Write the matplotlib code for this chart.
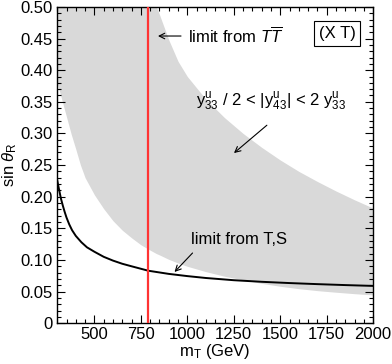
import matplotlib
matplotlib.use("Agg")
import matplotlib.pyplot as plt
from matplotlib.ticker import MultipleLocator, FuncFormatter

plt.rcParams['font.family'] = ['Liberation Sans', 'DejaVu Sans']
plt.rcParams['mathtext.fontset'] = 'custom'
plt.rcParams['mathtext.rm'] = 'Liberation Sans'
plt.rcParams['mathtext.it'] = 'Liberation Sans:italic'

# limit from T,S (black curve)
m_ts = [300, 310, 320, 330, 340, 350, 365, 380, 400, 430, 460, 500, 550, 600, 650,
        700, 790, 900, 1000, 1100, 1250, 1400, 1550, 1700, 1850, 2000]
sin_ts = [0.226, 0.211, 0.197, 0.186, 0.176, 0.167, 0.156, 0.147, 0.138, 0.128, 0.120,
          0.113, 0.105, 0.099, 0.094, 0.090, 0.083, 0.078, 0.0745, 0.0715, 0.068,
          0.0655, 0.0635, 0.0618, 0.0603, 0.059]

# grey band  y33/2 < |y43| < 2 y33
m_band = [300, 325, 350, 375, 400, 425, 450, 500, 550, 600, 650, 700, 750, 800, 834,
          850, 900, 950, 1000, 1100, 1200, 1300, 1400, 1500, 1600, 1700, 1800, 1900, 2000]
band_lo = [0.380, 0.353, 0.326, 0.299, 0.275, 0.250, 0.230, 0.203, 0.181, 0.162, 0.147,
           0.135, 0.124, 0.1155, 0.110, 0.108, 0.101, 0.0952, 0.090, 0.0815, 0.0743,
           0.0685, 0.0630, 0.0584, 0.0546, 0.0515, 0.0490, 0.0467, 0.0447]
band_hi = [0.5, 0.5, 0.5, 0.5, 0.5, 0.5, 0.5, 0.5, 0.5, 0.5, 0.5, 0.5, 0.5, 0.5, 0.5,
           0.488, 0.448, 0.414, 0.390, 0.354, 0.325, 0.300, 0.278, 0.258, 0.240,
           0.224, 0.209, 0.195, 0.182]

# limit from T Tbar
m_ttbar = 790

x_ticks = [500, 750, 1000, 1250, 1500, 1750, 2000]
y_ticks = [0, 0.05, 0.10, 0.15, 0.20, 0.25, 0.30, 0.35, 0.40, 0.45, 0.50]

FS = 12

fig = plt.figure(figsize=(3.92, 3.64), dpi=100)
ax = fig.add_axes([0.146, 0.112, 0.806, 0.869])

ax.fill_between(m_band, band_lo, band_hi, color='#d9d9d9', lw=0, zorder=1)
ax.plot(m_ts, sin_ts, color='black', lw=1.4, zorder=3)
ax.axvline(m_ttbar, color='#ff3333', lw=1.6, zorder=4)

ax.set_xlim(300, 2000)
ax.set_ylim(0, 0.5)
ax.set_xticks(x_ticks)
ax.set_yticks(y_ticks)
ax.xaxis.set_minor_locator(MultipleLocator(50))
ax.yaxis.set_minor_locator(MultipleLocator(0.01))
ax.yaxis.set_major_formatter(FuncFormatter(lambda v, p: '0' if abs(v) < 1e-9 else f'{v:.2f}'))
ax.tick_params(which='both', direction='in', top=True, right=True, labelsize=FS, width=0.8)
ax.tick_params(which='major', length=6, pad=3)
ax.tick_params(which='minor', length=3)
for s in ax.spines.values():
    s.set_linewidth(1.0)

ax.set_xlabel(r'm$_\mathrm{T}$ (GeV)', fontsize=FS, labelpad=0)
ax.set_ylabel(r'sin $\theta_\mathrm{R}$', fontsize=FS, labelpad=1)

arrow = dict(arrowstyle='->', color='black', lw=0.8, shrinkA=0, shrinkB=0)

# limit from T Tbar
ax.annotate('', xy=(842, 0.454), xytext=(966, 0.454), arrowprops=arrow)
ax.text(1005, 0.454, r'limit from $T\overline{T}$', fontsize=FS, ha='left', va='center')
ax.text(1805, 0.458, '(X T)', fontsize=FS, ha='center', va='center',
        bbox=dict(boxstyle='square,pad=0.3', fc='white', ec='black', lw=0.8))

# band label
ax.text(1450, 0.350,
        r'y$^\mathrm{u}_{33}$ / 2 < |y$^\mathrm{u}_{43}$| < 2 y$^\mathrm{u}_{33}$',
        fontsize=FS, ha='center', va='center')
ax.annotate('', xy=(1251, 0.269), xytext=(1428, 0.313), arrowprops=arrow)

# limit from T,S
ax.text(1022, 0.132, 'limit from T,S', fontsize=FS, ha='left', va='center')
ax.annotate('', xy=(931, 0.081), xytext=(1028, 0.111), arrowprops=arrow)

fig.savefig('out.png', dpi=100)
